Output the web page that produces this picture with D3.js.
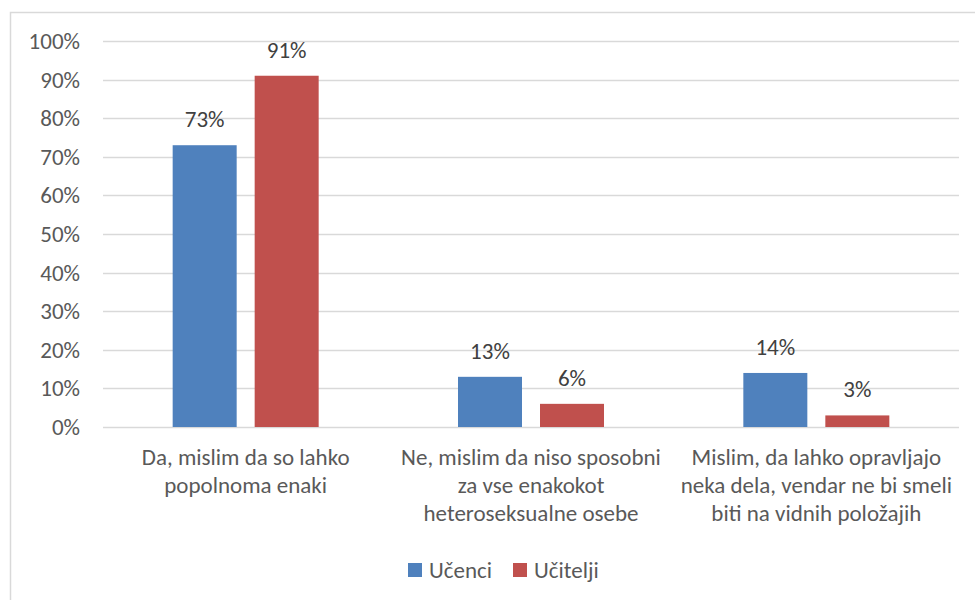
<!DOCTYPE html>
<html>
<head>
<meta charset="utf-8">
<script src="https://cdn.jsdelivr.net/npm/d3@7"></script>
<style>
  body { margin: 0; background: #fff; }
  svg { display: block; }
  text { font-family: Carlito, Calibri, "Open Sans", sans-serif; }
</style>
</head>
<body>
<div id="chart"></div>
<script>
// data
var categories = [
    ["Da, mislim da so lahko", "popolnoma enaki"],
    ["Ne, mislim da niso sposobni", "za vse enakokot", "heteroseksualne osebe"],
    ["Mislim, da lahko opravljajo", "neka dela, vendar ne bi smeli", "biti na vidnih položajih"]
];
var series = ["Učenci", "Učitelji"];
var ucenci = [73, 13, 14];
var ucitelji = [91, 6, 3];
var yTicks = [0, 10, 20, 30, 40, 50, 60, 70, 80, 90, 100];
var colors = ["#4f81bd", "#c0504d"];

var width = 975, height = 600;
var margin = { top: 41, right: 16, bottom: 173, left: 103 };
var fs = "23px";

var svg = d3.select("#chart").append("svg")
    .attr("width", width)
    .attr("height", height);

// outer chart border (cropped at right / bottom)
svg.append("rect")
    .attr("x", 10.5).attr("y", 12.5)
    .attr("width", 1000).attr("height", 1000)
    .style("fill", "none")
    .style("stroke", "#d9d9d9")
    .style("stroke-width", 1.5);

var x0 = d3.scaleBand()
    .domain(d3.range(categories.length))
    .range([margin.left, width - margin.right]);

var x1 = d3.scaleBand()
    .domain(series)
    .range([0, 146])
    .paddingInner(0.2195);

var y = d3.scaleLinear()
    .domain([0, 100])
    .range([height - margin.bottom, margin.top]);

// gridlines
svg.append("g")
    .selectAll("line")
    .data(yTicks)
    .enter().append("line")
    .attr("x1", margin.left)
    .attr("x2", width - margin.right)
    .attr("y1", function(d) { return Math.round(y(d)) + 0.5; })
    .attr("y2", function(d) { return Math.round(y(d)) + 0.5; })
    .style("stroke", "#d9d9d9")
    .style("stroke-width", 1.3);

// y axis labels
svg.append("g")
    .selectAll("text")
    .data(yTicks)
    .enter().append("text")
    .attr("x", margin.left - 23)
    .attr("y", function(d) { return y(d); })
    .attr("dy", "0.35em")
    .attr("text-anchor", "end")
    .style("font-size", fs)
    .style("fill", "#595959")
    .text(function(d) { return d + "%"; });

var rows = categories.map(function(c, i) {
    return [
        { s: series[0], v: ucenci[i], i: i },
        { s: series[1], v: ucitelji[i], i: i }
    ];
});

var groups = svg.append("g")
    .selectAll("g")
    .data(rows)
    .enter().append("g")
    .attr("transform", function(d, i) {
        return "translate(" + (x0(i) + x0.bandwidth() / 2 - 73) + ",0)";
    });

groups.selectAll("rect")
    .data(function(d) { return d; })
    .enter().append("rect")
    .attr("x", function(d) { return x1(d.s); })
    .attr("width", x1.bandwidth())
    .attr("y", function(d) { return y(d.v); })
    .attr("height", function(d) { return y(0) - y(d.v); })
    .style("fill", function(d, j) { return colors[j]; });

groups.selectAll("text")
    .data(function(d) { return d; })
    .enter().append("text")
    .attr("x", function(d) { return x1(d.s) + x1.bandwidth() / 2; })
    .attr("y", function(d) { return y(d.v) - 18; })
    .attr("text-anchor", "middle")
    .style("font-size", fs)
    .style("fill", "#404040")
    .text(function(d) { return d.v + "%"; });

// category labels
var catLabels = svg.append("g")
    .selectAll("text")
    .data(categories)
    .enter().append("text")
    .attr("text-anchor", "middle")
    .style("font-size", fs)
    .style("fill", "#595959");

catLabels.selectAll("tspan")
    .data(function(d, i) { return d.map(function(t) { return { t: t, i: i }; }); })
    .enter().append("tspan")
    .attr("x", function(d) { return x0(d.i) + x0.bandwidth() / 2; })
    .attr("y", function(d, k) { return 465 + k * 28; })
    .text(function(d) { return d.t; });

// legend
var legend = svg.append("g")
    .selectAll("g")
    .data(series)
    .enter().append("g")
    .attr("transform", function(d, i) { return "translate(" + [408, 513][i] + ",563)"; });

legend.append("rect")
    .attr("width", 14)
    .attr("height", 14)
    .style("fill", function(d, i) { return colors[i]; });

legend.append("text")
    .attr("x", 21)
    .attr("y", 7)
    .attr("dy", "0.35em")
    .style("font-size", fs)
    .style("fill", "#595959")
    .text(function(d) { return d; });
</script>
</body>
</html>
